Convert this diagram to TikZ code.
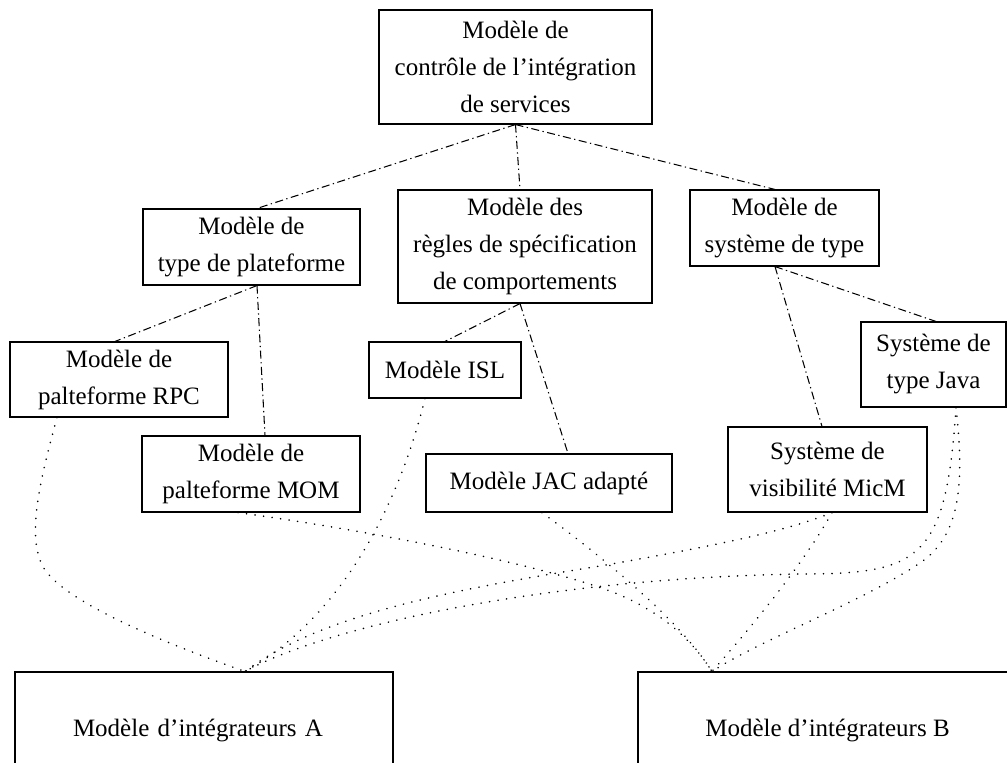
\documentclass[tikz,border=0pt]{standalone}
\usepackage{fontspec}
\setmainfont{Liberation Serif}
\usetikzlibrary{calc}
\tikzset{
  box/.style={draw, line width=1.1pt, inner sep=0pt, align=center,
    font=\fontsize{25}{37}\selectfont},
  dd/.style={line width=1.05pt, dash pattern=on 8pt off 3.5pt on 1.3pt off 3.5pt},
  dt/.style={line width=1.7pt, line cap=round, dash pattern=on 0.1pt off 8.5pt},
  bigbox/.style={draw, line width=1.1pt, inner ysep=0pt,
    minimum height=116pt, font=\fontsize{25}{37}\selectfont}
}
\begin{document}
\begin{tikzpicture}[x=1pt,y=-1pt]
\useasboundingbox (0,0) rectangle (1007,763);
\clip (0,0) rectangle (1007,763);
\fill[white] (0,0) rectangle (1007,763);

\node[box, minimum width=273pt, minimum height=114pt] (ctrl) at (515.5,67)
  {Modèle de\\contrôle de l’intégration\\de services};
\node[box, minimum width=217pt, minimum height=76pt] (plat) at (251.5,247)
  {Modèle de\\type de plateforme};
\node[box, minimum width=254pt, minimum height=113pt] (regl) at (525,246.5)
  {Modèle des\\règles de spécification\\de comportements};
\node[box, minimum width=189pt, minimum height=76pt] (styp) at (784.5,228)
  {Modèle de\\système de type};
\node[box, minimum width=218pt, minimum height=75pt] (rpc) at (119,379.5)
  {Modèle de\\palteforme RPC};
\node[box, minimum width=218pt, minimum height=76pt] (mom) at (251,474)
  {Modèle de\\palteforme MOM};
\node[box, minimum width=152pt, minimum height=56pt] (isl) at (445,370)
  {Modèle ISL};
\node[box, minimum width=246pt, minimum height=58pt] (jac) at (549,483)
  {Modèle JAC adapté};
\node[box, minimum width=199pt, minimum height=85pt] (micm) at (827.5,469.5)
  {Système de\\visibilité MicM};
\node[box, minimum width=145pt, minimum height=85pt] (java) at (933.5,364.5)
  {Système de\\type Java};
\node[bigbox, align=left, inner xsep=58pt, text width=262pt] (intA) at (204,730)
  {Modèle d’intégrateurs A};
\node[bigbox, align=center, inner xsep=0pt, minimum width=379pt] (intB) at (827.5,730)
  {Modèle d’intégrateurs B};

\coordinate (pA) at ($(intA.north)+(41,0)$);
\coordinate (pB) at ($(intB.north)+(-115.5,0)$);

% dash-dot hierarchy
\draw[dd] (ctrl.south) -- ($(plat.north)+(5.5,0)$);
\draw[dd] (ctrl.south) -- ($(regl.north)+(-5,0)$);
\draw[dd] (ctrl.south) -- ($(styp.north)+(-9.5,0)$);
\draw[dd] ($(plat.south)+(5.5,0)$) -- ($(rpc.north)+(-4,0)$);
\draw[dd] ($(plat.south)+(5.5,0)$) -- ($(mom.north)+(14,0)$);
\draw[dd] ($(regl.south)+(-5,0)$) -- (isl.north);
\draw[dd] ($(regl.south)+(-5,0)$) -- ($(jac.north)+(19,0)$);
\draw[dd] ($(styp.south)+(-9.5,0)$) -- ($(micm.north)+(-5.5,0)$);
\draw[dd] ($(styp.south)+(-9.5,0)$) -- ($(java.north)+(2.5,0)$);

% dotted links to integrators A
\draw[dt] ($(rpc.south)+(-62,0)$) .. controls (40,480) and (25,540) .. (45,570)
  .. controls (70,605) and (170,645) .. (pA);
\draw[dt] ($(isl.south)+(-20,0)$) .. controls (400,500) and (345,615) .. (pA);
\draw[dt] ($(micm.south)+(4.5,0)$) .. controls (790,530) and (720,545) .. (600,566)
  .. controls (450,590) and (320,615) .. (pA);
\draw[dt] ($(java.south)+(22.5,0)$) .. controls (946,560) and (920,574) .. (800,574)
  .. controls (550,578) and (330,625) .. (pA);

% dotted links to integrators B
\draw[dt] ($(mom.south)+(-13,0)$) .. controls (400,535) and (560,570) .. (620,595)
  .. controls (670,617) and (695,645) .. (pB);
\draw[dt] ($(jac.south)+(-7,0)$) .. controls (600,555) and (680,620) .. (pB);
\draw[dt] ($(micm.south)+(4.5,0)$) .. controls (800,570) and (740,640) .. (pB);
\draw[dt] ($(java.south)+(22.5,0)$) .. controls (964,480) and (962,535) .. (920,563)
  .. controls (860,603) and (760,640) .. (pB);
\end{tikzpicture}
\end{document}
